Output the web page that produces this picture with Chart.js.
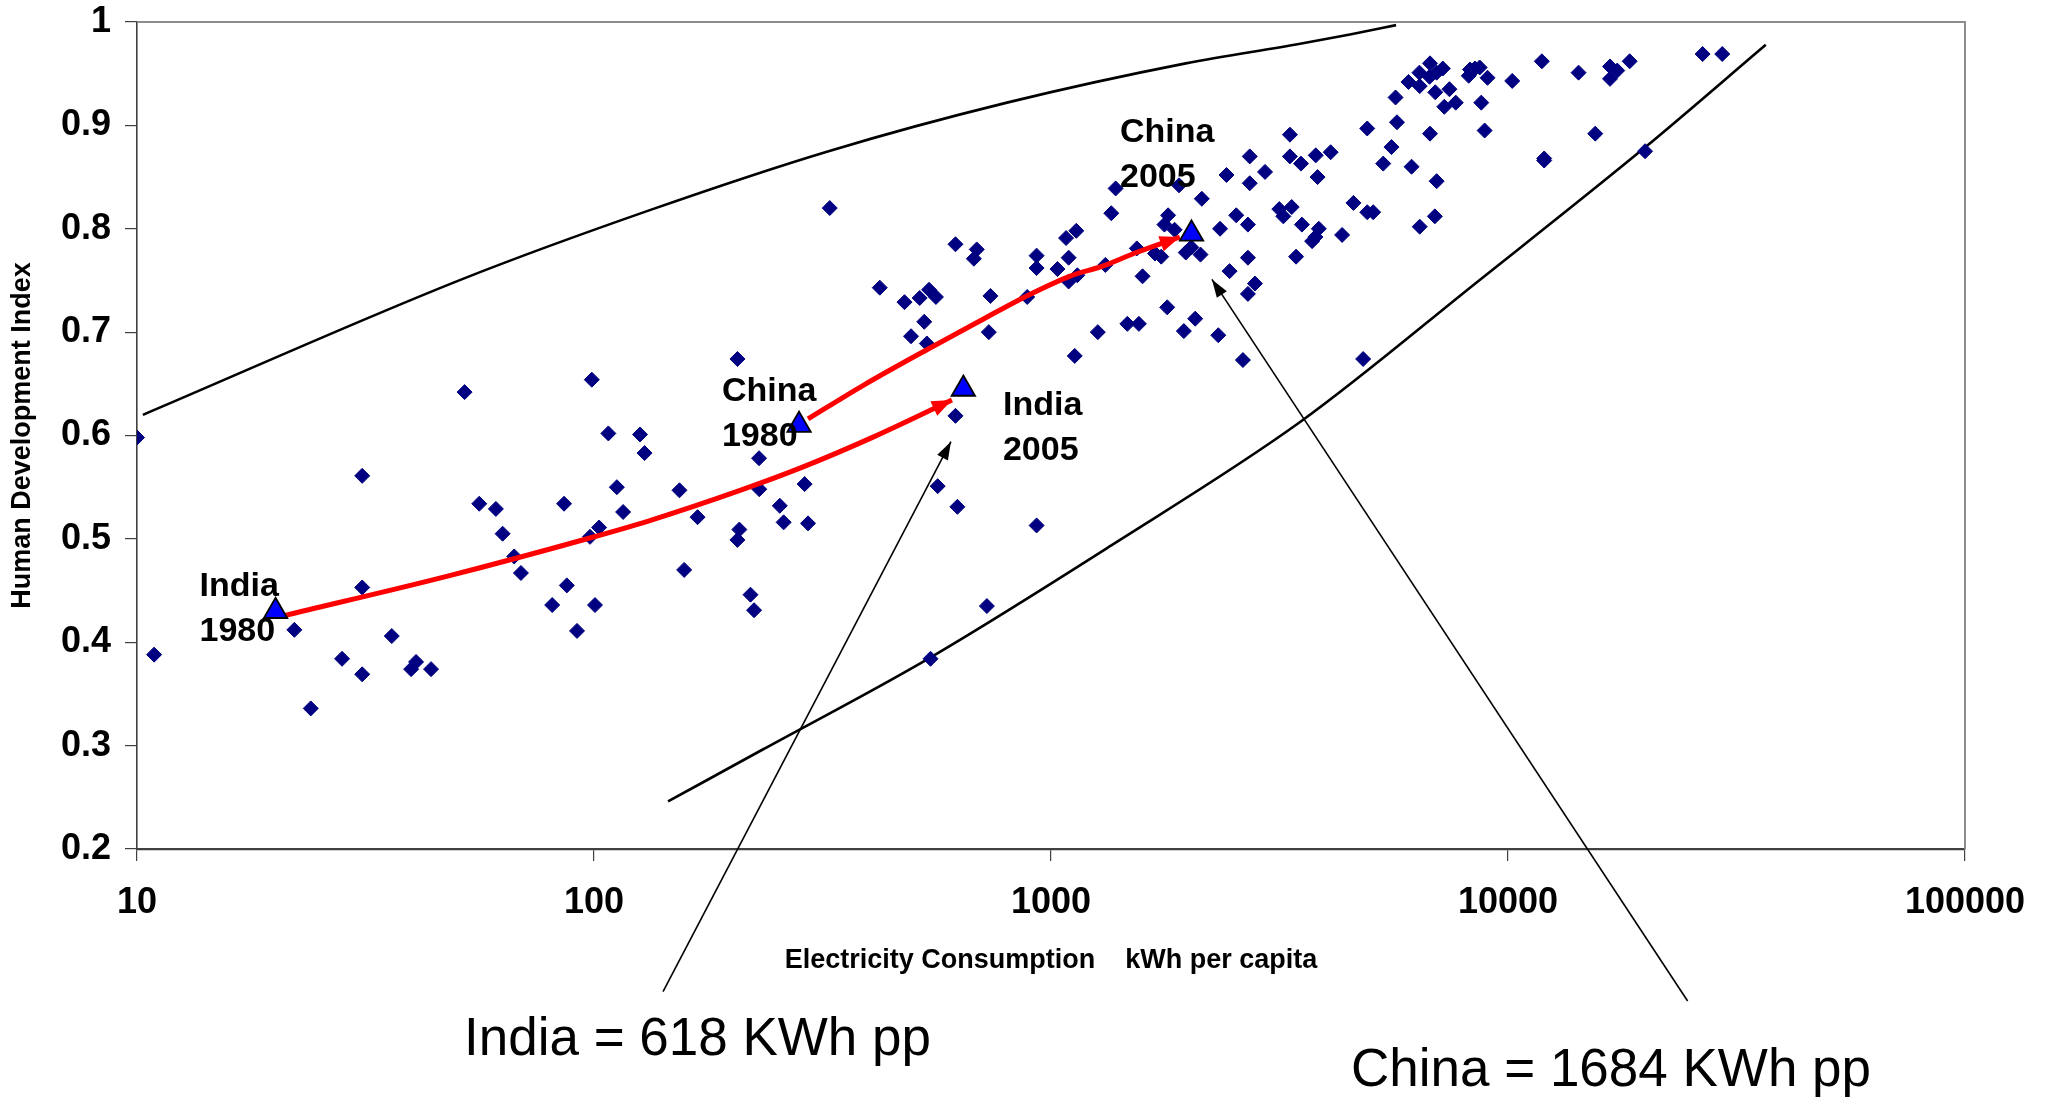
<!DOCTYPE html>
<html>
<head>
<meta charset="utf-8">
<script src="https://cdn.jsdelivr.net/npm/chart.js@4/dist/chart.umd.min.js"></script>
<style>
html,body{margin:0;padding:0;background:#fff;}
#wrap{width:2051px;height:1103px;position:relative;}
</style>
</head>
<body>
<div id="wrap"><canvas id="c"></canvas></div>
<script>
// ---------- DATA ----------
const xTickValues = [10, 100, 1000, 10000, 100000];
const yTickValues = [0.2, 0.3, 0.4, 0.5, 0.6, 0.7, 0.8, 0.9, 1];

const xTitle = 'Electricity Consumption    kWh per capita';
const yTitle = 'Human Development Index';

// countries: [kWh per capita, HDI]
const countryPoints = [
  [10,0.598],[10.9,0.388],[22.1,0.412],[24.0,0.336],[28.1,0.384],[31.1,0.561],[31.1,0.453],[31.1,0.369],
  [36.1,0.406],[39.8,0.374],[40.8,0.381],[44.0,0.374],[56.1,0.534],[61.0,0.529],[63.1,0.505],[66.9,0.483],
  [69.2,0.467],[81.0,0.436],[86.0,0.534],[87.2,0.455],[91.8,0.411],[98.0,0.502],[100.5,0.436],[102.6,0.511],
  [107.5,0.602],[112.2,0.550],[115.8,0.526],[126.1,0.601],[129.0,0.583],[153.8,0.547],[157.5,0.470],[168.5,0.521],
  [52.1,0.642],[98.9,0.654],
  [618,0.619],[229.7,0.578],[230,0.548],[289,0.553],[255,0.532],[260,0.516],[294,0.515],[208,0.509],
  [206,0.499],[220,0.446],[224,0.431],[565,0.551],[624,0.531],[930,0.513],[724,0.435],[545,0.384],
  [328,0.820],[206,0.674],[422,0.743],[478,0.729],[516,0.733],[541,0.741],[560,0.734],[528,0.710],
  [494,0.696],[535,0.689],[618,0.785],[688,0.780],[678,0.771],[737,0.735],[731,0.700],[887,0.734],
  [930,0.774],[930,0.762],[1033,0.761],[1093,0.772],[1079,0.791],[1136,0.798],[1093,0.749],[1142,0.755],
  [1127,0.677],[1266,0.700],[1315,0.765],[1355,0.815],[1385,0.839],[1469,0.708],[1557,0.708],[1541,0.781],
  [1586,0.754],[1689,0.776],[1743,0.773],[1796,0.724],[1804,0.813],[1771,0.804],[1864,0.799],[1906,0.842],
  [1953,0.701],[1972,0.777],[2027,0.782],[2068,0.713],[2124,0.775],[2138,0.829],[2323,0.697],[2344,0.800],
  [2421,0.852],[2459,0.759],[2543,0.813],[2630,0.673],[2697,0.772],[2697,0.804],[2722,0.870],[2722,0.844],
  [2794,0.747],[2697,0.737],[2940,0.855],[3159,0.819],[3224,0.812],[3333,0.891],[3333,0.870],[3363,0.821],
  [3438,0.773],[3524,0.863],[3540,0.804],[3796,0.871],[3831,0.850],[4092,0.874],[3855,0.800],[3789,0.792],
  [3727,0.788],[4335,0.794],
  [4590,0.825],[4920,0.816],[5070,0.816],[5333,0.863],[4920,0.897],[5560,0.879],[6152,0.860],[5715,0.903],
  [5675,0.927],[6057,0.942],[6400,0.951],[6750,0.960],[6410,0.938],[6932,0.932],[6735,0.947],[6980,0.951],
  [7200,0.955],[7445,0.935],[7686,0.922],[7255,0.918],[6750,0.892],[6980,0.846],[6410,0.802],[6918,0.812],
  [8255,0.954],[8465,0.955],[8670,0.956],[8205,0.948],[9020,0.946],[8740,0.922],[8890,0.895],[10215,0.943],
  [11860,0.962],[12000,0.868],[12000,0.866],[14270,0.951],[15520,0.892],[16720,0.957],[16720,0.945],[17340,0.953],
  [18460,0.962],[19950,0.875],[26660,0.969],[29430,0.969],[4820,0.674]
];

// highlighted India / China positions
const highlightNames = ['India 1980', 'China 1980', 'India 2005', 'China 2005'];
const highlightX = [20.1, 281, 643, 2030];
const highlightY = [0.430, 0.610, 0.645, 0.795];

// red trajectories
const indiaPath = [[21.1,0.426],[47.6,0.4637],[97.5,0.5006],[132.5,0.5177],[208,0.5466],[285,0.5691],[408,0.5984],[607,0.6343]];
const chinaPath = [[294,0.6160],[390,0.649],[535,0.683],[700,0.711],[885,0.735],[1099,0.754],[1302,0.764],[1538,0.777],[1914,0.792]];

// envelope curves
const upperCurve = [[10.3,0.620],[52,0.752],[132.5,0.818],[326,0.875],[801,0.922],[1972,0.960],[3509,0.979],[4510,0.988],[5690,0.997]];
const lowerCurve = [[145.2,0.246],[233.5,0.296],[543,0.385],[1358,0.494],[3508,0.613],[8590,0.749],[19860,0.878],[36650,0.978]];

// label texts
const pointLabelLines = [['India','1980'],['China','1980'],['India','2005'],['China','2005']];
const calloutTexts = ['India = 618 KWh pp', 'China = 1684 KWh pp'];

// ---------- LAYOUT / ANNOTATION CONFIG ----------
const FONT = '"Liberation Sans", Arial, Helvetica, sans-serif';
const labelAnchors = [ {x:13.7, y:0.454}, {x:190.5, y:0.642}, {x:785, y:0.629}, {x:1416, y:0.893} ];
const calloutArrows = [
  {from:{x:141.6, y:0.062}, to:{x:604, y:0.594}},
  {from:{x:24720, y:0.053}, to:{x:2250, y:0.751}}
];
const calloutTextPos = [ {left:464, mid:1040}, {left:1351, mid:1071} ];

function drawHead(ctx, x1, y1, x2, y2, len, half, color) {
  const a = Math.atan2(y2 - y1, x2 - x1);
  ctx.save();
  ctx.fillStyle = color;
  ctx.beginPath();
  ctx.moveTo(x2, y2);
  ctx.lineTo(x2 - len*Math.cos(a) + half*Math.sin(a), y2 - len*Math.sin(a) - half*Math.cos(a));
  ctx.lineTo(x2 - len*Math.cos(a) - half*Math.sin(a), y2 - len*Math.sin(a) + half*Math.cos(a));
  ctx.closePath();
  ctx.fill();
  ctx.restore();
}

const annotPlugin = {
  id: 'annot',
  beforeDatasetsDraw(chart) {
    const {ctx, chartArea: a} = chart;
    ctx.save();
    ctx.strokeStyle = '#8c8c8c';
    ctx.lineWidth = 2;
    ctx.beginPath();
    ctx.moveTo(a.left, a.top);
    ctx.lineTo(a.right, a.top);
    ctx.lineTo(a.right, a.bottom);
    ctx.stroke();
    ctx.restore();
  },
  afterDatasetsDraw(chart) {
    const {ctx} = chart;
    chart.data.datasets.forEach((ds, i) => {
      if (!ds.arrowHead) return;
      const pts = chart.getDatasetMeta(i).data;
      const p1 = pts[pts.length - 2], p2 = pts[pts.length - 1];
      drawHead(ctx, p1.x, p1.y, p2.x, p2.y, 20, 8, ds.borderColor);
    });
    const xs = chart.scales.x, ys = chart.scales.y;
    ctx.save();
    ctx.font = 'bold 34px ' + FONT;
    ctx.fillStyle = '#000';
    ctx.textAlign = 'left';
    ctx.textBaseline = 'middle';
    pointLabelLines.forEach((lines, k) => {
      const px = xs.getPixelForValue(labelAnchors[k].x);
      const py = ys.getPixelForValue(labelAnchors[k].y);
      lines.forEach((t, j) => ctx.fillText(t, px, py + j * 45));
    });
    ctx.restore();
  },
  afterDraw(chart) {
    const {ctx} = chart;
    const xs = chart.scales.x, ys = chart.scales.y;
    ctx.save();
    ctx.strokeStyle = '#000';
    ctx.lineWidth = 1.6;
    calloutArrows.forEach(ar => {
      const x1 = xs.getPixelForValue(ar.from.x), y1 = ys.getPixelForValue(ar.from.y);
      const x2 = xs.getPixelForValue(ar.to.x), y2 = ys.getPixelForValue(ar.to.y);
      ctx.beginPath();
      ctx.moveTo(x1, y1);
      ctx.lineTo(x2, y2);
      ctx.stroke();
      drawHead(ctx, x1, y1, x2, y2, 18, 6, '#000');
    });
    ctx.font = '53px ' + FONT;
    ctx.fillStyle = '#000';
    ctx.textAlign = 'left';
    ctx.textBaseline = 'middle';
    calloutTexts.forEach((t, k) => ctx.fillText(t, calloutTextPos[k].left, calloutTextPos[k].mid));
    ctx.restore();
  }
};

const toXY = arr => arr.map(p => ({x: p[0], y: p[1]}));

new Chart(document.getElementById('c'), {
  type: 'scatter',
  data: {
    datasets: [
      {
        label: 'Upper bound', data: toXY(upperCurve), showLine: true, pointRadius: 0,
        borderColor: '#000', borderWidth: 2.6, cubicInterpolationMode: 'monotone', order: 5
      },
      {
        label: 'Lower bound', data: toXY(lowerCurve), showLine: true, pointRadius: 0,
        borderColor: '#000', borderWidth: 2.6, cubicInterpolationMode: 'monotone', order: 5
      },
      {
        label: 'Countries', data: toXY(countryPoints), pointStyle: 'rectRot', pointRadius: 7.5,
        backgroundColor: '#000080', borderColor: '#000080', borderWidth: 1, order: 4
      },
      {
        label: 'India trajectory', data: toXY(indiaPath), showLine: true, pointRadius: 0,
        borderColor: '#ff0000', borderWidth: 5, cubicInterpolationMode: 'monotone', arrowHead: true, order: 3
      },
      {
        label: 'China trajectory', data: toXY(chinaPath), showLine: true, pointRadius: 0,
        borderColor: '#ff0000', borderWidth: 5, cubicInterpolationMode: 'monotone', arrowHead: true, order: 3
      },
      {
        label: 'India / China', data: highlightX.map((x, i) => ({x, y: highlightY[i], name: highlightNames[i]})),
        pointStyle: 'triangle', pointRadius: 13.5, backgroundColor: '#0000ff', borderColor: '#000', borderWidth: 1.8, order: 2
      }
    ]
  },
  options: {
    responsive: true,
    maintainAspectRatio: false,
    animation: false,
    layout: { padding: { top: 22, right: 86, left: 0, bottom: 0 } },
    plugins: { legend: { display: false }, tooltip: { enabled: false } },
    scales: {
      x: {
        type: 'logarithmic', position: 'bottom', min: 10, max: 100000,
        afterBuildTicks: s => { s.ticks = xTickValues.map(v => ({value: v})); },
        afterFit: s => { s.height = 254; s.paddingLeft = 0; s.paddingRight = 0; },
        ticks: {
          callback: v => String(v), autoSkip: false, maxRotation: 0, padding: 20,
          color: '#000', font: { family: FONT, size: 36, weight: 'bold' }
        },
        grid: { drawOnChartArea: false, drawTicks: true, tickLength: 12, color: '#404040', lineWidth: 1.2 },
        border: { display: true, color: '#404040', width: 2.2 },
        title: {
          display: true, text: xTitle, color: '#000',
          font: { family: FONT, size: 27, weight: 'bold' }, padding: { top: 0, bottom: 126 }
        }
      },
      y: {
        type: 'linear', position: 'left', min: 0.2, max: 1,
        afterBuildTicks: s => { s.ticks = yTickValues.map(v => ({value: v})); },
        afterFit: s => { s.width = 137; s.paddingTop = 0; s.paddingBottom = 0; },
        ticks: {
          callback: v => String(Number(v.toFixed(1))), padding: 14,
          color: '#000', font: { family: FONT, size: 36, weight: 'bold' }
        },
        grid: { drawOnChartArea: false, drawTicks: true, tickLength: 12, color: '#404040', lineWidth: 1.2 },
        border: { display: true, color: '#404040', width: 1.6 },
        title: {
          display: true, text: yTitle, color: '#000',
          font: { family: FONT, size: 27, weight: 'bold' }, padding: { top: 6, bottom: 0 }
        }
      }
    }
  },
  plugins: [annotPlugin]
});
</script>
</body>
</html>
